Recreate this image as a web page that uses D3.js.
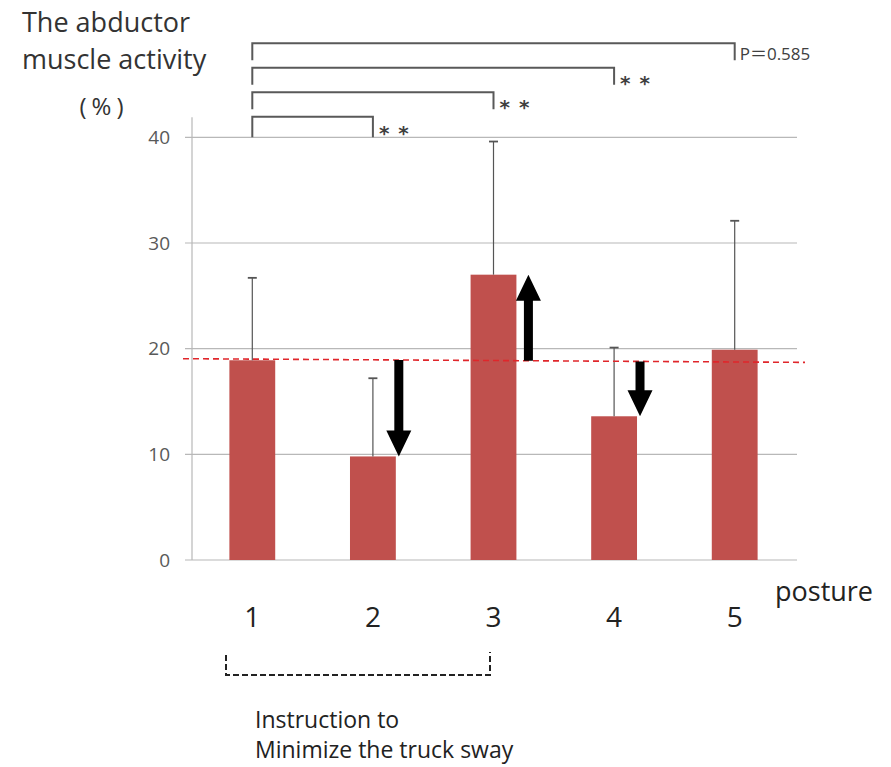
<!DOCTYPE html>
<html>
<head>
<meta charset="utf-8">
<script src="https://cdn.jsdelivr.net/npm/d3@7"></script>
<style>
  html, body { margin: 0; padding: 0; background: #fff; }
  svg { display: block; }
</style>
</head>
<body>
<div id="chart"></div>
<script>
// Posture categories and abductor muscle activity (mean and SD, %)
const postures = ["1", "2", "3", "4", "5"];
const meanActivity = [18.9, 9.8, 27.0, 13.6, 19.9];
const sdActivity = [7.8, 7.4, 12.6, 6.5, 12.2];
const yTicks = [0, 10, 20, 30, 40];

// Reference level taken from posture 1 (left and right ends of the dashed line)
const referenceLevel = [19.05, 18.7];

// Postures that get a change arrow relative to the reference level
const arrowPostures = ["2", "3", "4"];

// Pairwise comparisons against posture 1
const compareFrom = ["1", "1", "1", "1"];
const compareTo = ["5", "4", "3", "2"];
const compareLabels = ["P\uFF1D0.585", "* *", "* *", "* *"];

const W = 891, H = 767;
const svg = d3.select("#chart").append("svg").attr("width", W).attr("height", H);

const plotLeft = 192, plotRight = 795, plotTop = 137.3, plotBottom = 560;

const x = d3.scaleBand().domain(postures).range([plotLeft, plotRight]).paddingInner(0.62).paddingOuter(0.31);
const y = d3.scaleLinear().domain([0, 40]).range([plotBottom, plotTop]);

const gridColor = "#b8b8b8";
const font = "'Open Sans', 'Noto Sans CJK JP', sans-serif";

// Gridlines with short ticks left of the axis
svg.append("g").selectAll("line").data(yTicks).join("line")
  .attr("x1", plotLeft - 7).attr("x2", plotRight + 2)
  .attr("y1", d => y(d)).attr("y2", d => y(d))
  .attr("stroke", gridColor).attr("stroke-width", 1.2);

// Vertical axis line
svg.append("line")
  .attr("x1", plotLeft).attr("x2", plotLeft)
  .attr("y1", plotTop - 20).attr("y2", plotBottom)
  .attr("stroke", gridColor).attr("stroke-width", 1.2);

// Y tick labels
svg.append("g").selectAll("text").data(yTicks).join("text")
  .attr("x", plotLeft - 22).attr("y", d => y(d))
  .attr("dy", "0.36em").attr("text-anchor", "end")
  .attr("font-family", font).attr("font-size", 19).attr("fill", "#595959")
  .text(d => d);

// Bars
const barData = postures.map((p, i) => ({ p, mean: meanActivity[i], sd: sdActivity[i] }));
svg.append("g").selectAll("rect").data(barData).join("rect")
  .attr("x", d => x(d.p)).attr("width", x.bandwidth())
  .attr("y", d => y(d.mean)).attr("height", d => y(0) - y(d.mean))
  .attr("fill", "#c0504d");

// Upper error bars
const errG = svg.append("g").attr("stroke", "#555").attr("stroke-width", 1.2);
errG.selectAll("line.stem").data(barData).join("line").attr("class", "stem")
  .attr("x1", d => x(d.p) + x.bandwidth() / 2).attr("x2", d => x(d.p) + x.bandwidth() / 2)
  .attr("y1", d => y(d.mean)).attr("y2", d => y(d.mean + d.sd));
errG.selectAll("line.cap").data(barData).join("line").attr("class", "cap")
  .attr("x1", d => x(d.p) + x.bandwidth() / 2 - 4.5).attr("x2", d => x(d.p) + x.bandwidth() / 2 + 4.5)
  .attr("y1", d => y(d.mean + d.sd)).attr("y2", d => y(d.mean + d.sd))
  .attr("stroke-width", 1.8);

// Dashed reference line
const refX0 = plotLeft - 9, refX1 = plotRight + 10;
svg.append("line")
  .attr("x1", refX0).attr("x2", refX1)
  .attr("y1", y(referenceLevel[0])).attr("y2", y(referenceLevel[1]))
  .attr("stroke", "#e0262b").attr("stroke-width", 1.6)
  .attr("stroke-dasharray", "6,4");

const refAt = px => y(referenceLevel[0] + (referenceLevel[1] - referenceLevel[0]) * (px - refX0) / (refX1 - refX0));

// Change arrows from the reference level to each bar top
const shaftW = 9, headW = 25, headL = 26;
arrowPostures.forEach(p => {
  const d = barData.find(b => b.p === p);
  const rising = d.mean > referenceLevel[0];
  const cx = x(p) + x.bandwidth() + (rising ? 12 : 3);
  const y0 = refAt(cx);
  const y1 = y(d.mean);
  const dir = y1 > y0 ? 1 : -1;
  const hb = y1 - dir * headL;
  const path = [
    [cx - shaftW / 2, y0], [cx + shaftW / 2, y0], [cx + shaftW / 2, hb],
    [cx + headW / 2, hb], [cx, y1], [cx - headW / 2, hb], [cx - shaftW / 2, hb]
  ];
  svg.append("path").attr("d", d3.line()(path) + "Z").attr("fill", "#000");
});

// Significance brackets
const bracketTop = 43.3, bracketStep = 24.5, tickLen = 17;
compareFrom.forEach((from, i) => {
  const by = bracketTop + i * bracketStep;
  const xa = x(from) + x.bandwidth() / 2;
  const xb = x(compareTo[i]) + x.bandwidth() / 2;
  const drop = i === compareFrom.length - 1 ? plotTop - by : tickLen;
  svg.append("path")
    .attr("d", `M${xa},${by + drop}V${by}H${xb}V${by + drop}`)
    .attr("fill", "none").attr("stroke", "#595959").attr("stroke-width", 2);
  const isP = i === 0;
  svg.append("text")
    .attr("x", xb + (isP ? 5 : 6)).attr("y", by + drop * (isP ? 0.62 : 0.55))
    .attr("dy", isP ? "0.36em" : "0.62em")
    .attr("font-family", isP ? font : "'DejaVu Sans', sans-serif")
    .attr("font-size", isP ? 17 : 20)
    .attr("font-weight", isP ? "normal" : "bold")
    .attr("letter-spacing", isP ? 0 : 1)
    .attr("fill", "#404040")
    .text(compareLabels[i]);
});

// Category labels
svg.append("g").selectAll("text").data(postures).join("text")
  .attr("x", d => x(d) + x.bandwidth() / 2).attr("y", 627)
  .attr("text-anchor", "middle")
  .attr("font-family", font).attr("font-size", 28).attr("fill", "#222")
  .text(d => d);

svg.append("text").attr("x", 775).attr("y", 601)
  .attr("font-family", font).attr("font-size", 27).attr("fill", "#222")
  .text("posture");

// Y axis title
const titleG = svg.append("g").attr("font-family", font).attr("fill", "#333").attr("font-size", 27);
titleG.append("text").attr("x", 22).attr("y", 32).text("The abductor");
titleG.append("text").attr("x", 22).attr("y", 69).text("muscle activity");
titleG.append("text").attr("x", 104).attr("y", 115).attr("text-anchor", "middle")
  .attr("font-size", 24).attr("letter-spacing", 5).text("(%)");

// Dashed bracket marking the instructed postures
svg.append("path")
  .attr("d", "M226,655V675H490V652")
  .attr("fill", "none").attr("stroke", "#222").attr("stroke-width", 2)
  .attr("stroke-dasharray", "6,3");

const noteG = svg.append("g").attr("font-family", font).attr("font-size", 23).attr("fill", "#222");
noteG.append("text").attr("x", 255).attr("y", 728).text("Instruction to");
noteG.append("text").attr("x", 255).attr("y", 758).text("Minimize the truck sway");
</script>
</body>
</html>
